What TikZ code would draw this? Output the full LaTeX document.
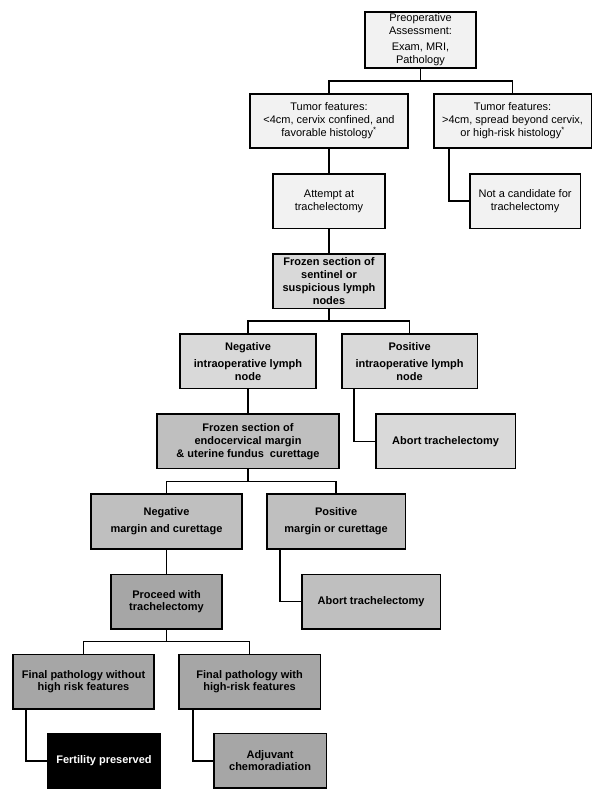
\documentclass[tikz,border=0pt]{standalone}
\usepackage{fontspec}
\setmainfont{Liberation Sans}
\usepackage{xcolor}
\usetikzlibrary{positioning}
\definecolor{shadeA}{HTML}{F2F2F2}
\definecolor{shadeB}{HTML}{D9D9D9}
\definecolor{shadeC}{HTML}{BFBFBF}
\definecolor{shadeD}{HTML}{A6A6A6}

\begin{document}
\begin{tikzpicture}[x=1pt,y=1pt,font=\fontsize{11}{13}\selectfont,node distance=24pt,
  box/.style={draw,line width=1.6pt,align=center,minimum height=54.5pt,inner sep=2pt},
  lvla/.style={box,fill=shadeA},
  lvlb/.style={box,fill=shadeB,font=\fontsize{11}{12.8}\selectfont\bfseries},
  lvlc/.style={box,fill=shadeC,font=\fontsize{11}{12.8}\selectfont\bfseries},
  lvld/.style={box,fill=shadeD,font=\fontsize{11}{12.5}\selectfont\bfseries},
  link/.style={line width=1.5pt}]
\useasboundingbox (0,0) rectangle (602,-798);
\node[lvla,minimum width=111.5pt] (preop) at (420.5,-40) {Preoperative\\Assessment:\\[3pt]Exam, MRI,\\Pathology};
\node[lvla,minimum width=158.5pt,below=24pt of preop,xshift=-91.5pt] (tum1) {Tumor features:\\<4cm, cervix confined, and\\favorable histology\textsuperscript{*}};
\node[lvla,minimum width=157.5pt,right=24pt of tum1] (tum2) {Tumor features:\\>4cm, spread beyond cervix,\\or high-risk histology\textsuperscript{*}};
\node[lvla,minimum width=112.5pt,below=of tum1] (attempt) {Attempt at\\trachelectomy};
\node[lvla,minimum width=110.5pt,below=of tum2,xshift=12.5pt] (notcand) {Not a candidate for\\trachelectomy};
\node[lvlb,minimum width=111.5pt,below=of attempt] (frozln) {Frozen section of\\sentinel or\\suspicious lymph\\nodes};
\node[lvlb,minimum width=136.5pt,below=of frozln,xshift=-81pt] (negln) {Negative\\[4pt]intraoperative lymph\\node};
\node[lvlb,minimum width=135.5pt,right=24pt of negln] (posln) {Positive\\[4pt]intraoperative lymph\\node};
\node[lvlc,minimum width=181.5pt,below=of negln] (frozmg) {Frozen section of\\endocervical margin\\\& uterine fundus\ \ curettage};
\node[lvlb,minimum width=139.5pt,below=of posln,xshift=36pt] (abortln) {Abort trachelectomy};
\node[lvlc,minimum width=151.5pt,below=of frozmg,xshift=-81.5pt] (negmg) {Negative\\[4pt]margin and curettage};
\node[lvlc,minimum width=138.5pt,right=23pt of negmg] (posmg) {Positive\\[4pt]margin or curettage};
\node[lvld,minimum width=111.5pt,below=of negmg] (proceed) {Proceed with\\trachelectomy};
\node[lvlc,minimum width=138.5pt,below=of posmg,xshift=35pt] (abortmg) {Abort trachelectomy};
\node[lvld,minimum width=141.5pt,below=of proceed,xshift=-83pt] (finno) {Final pathology without\\high risk features};
\node[lvld,minimum width=141.5pt,right=23pt of finno] (finhi) {Final pathology with\\high-risk features};
\node[box,fill=black,text=white,font=\fontsize{11}{12.5}\selectfont\bfseries,minimum width=112.5pt,below=23pt of finno,xshift=20.5pt] (fert) {Fertility preserved};
\node[lvld,minimum width=112.5pt,below=23pt of finhi,xshift=20.5pt] (adjuv) {Adjuvant\\chemoradiation};
\draw[link] (preop.south) -- ++(0,-12) -| (tum1.north);
\draw[link] (preop.south) -- ++(0,-12) -| (tum2.north);
\draw[link] (tum1) -- (attempt);
\draw[link] ([xshift=16pt]tum2.south west) |- (notcand.west);
\draw[link] (attempt) -- (frozln);
\draw[link] (frozln.south) -- ++(0,-12) -| (negln.north);
\draw[link] (frozln.south) -- ++(0,-12) -| (posln.north);
\draw[link] (negln) -- (frozmg);
\draw[link] ([xshift=13pt]posln.south west) |- (abortln.west);
\draw[link] (frozmg.south) -- ++(0,-12) -| (negmg.north);
\draw[link] (frozmg.south) -- ++(0,-12) -| (posmg.north);
\draw[link] (negmg) -- (proceed);
\draw[link] ([xshift=14pt]posmg.south west) |- (abortmg.west);
\draw[link] (proceed.south) -- ++(0,-12) -| (finno.north);
\draw[link] (proceed.south) -- ++(0,-12) -| (finhi.north);
\draw[link] ([xshift=14pt]finno.south west) |- (fert.west);
\draw[link] ([xshift=15pt]finhi.south west) |- (adjuv.west);
\end{tikzpicture}
\end{document}
